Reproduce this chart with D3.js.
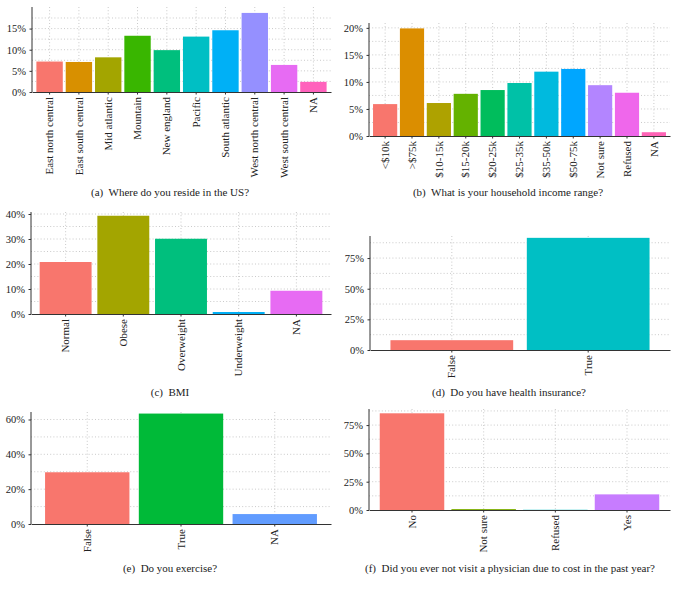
<!DOCTYPE html>
<html>
<head>
<meta charset="utf-8">
<script src="https://cdn.jsdelivr.net/npm/d3@7"></script>
<style>
  html, body { margin: 0; padding: 0; background: #fff; }
  svg { display: block; }
  text { font-family: "Liberation Serif", "DejaVu Serif", serif; fill: #222; }
</style>
</head>
<body>
<script>
// ---------- data ----------
const regionCats = ["East north central","East south central","Mid atlantic","Mountain","New england","Pacific","South atlantic","West north central","West south central","NA"];
const regionVals = [7.2, 7.1, 8.2, 13.3, 9.9, 13.1, 14.6, 18.7, 6.4, 2.4];
const regionTicks = [0, 5, 10, 15];

const incomeCats = ["<$10k",">$75k","$10-15k","$15-20k","$20-25k","$25-35k","$35-50k","$50-75k","Not sure","Refused","NA"];
const incomeVals = [5.9, 19.9, 6.1, 7.8, 8.5, 9.8, 11.9, 12.4, 9.4, 8.0, 0.7];
const incomeTicks = [0, 5, 10, 15, 20];

const bmiCats = ["Normal","Obese","Overweight","Underweight","NA"];
const bmiVals = [20.8, 39.3, 30.1, 0.8, 9.3];
const bmiTicks = [0, 10, 20, 30, 40];

const insCats = ["False","True"];
const insVals = [8.0, 91.5];
const insTicks = [0, 25, 50, 75];

const exCats = ["False","True","NA"];
const exVals = [29.7, 63.4, 5.7];
const exTicks = [0, 20, 40, 60];

const physCats = ["No","Not sure","Refused","Yes"];
const physVals = [85.4, 0.8, 0.2, 13.8];
const physTicks = [0, 25, 50, 75];

const captions = [
  "(a)  Where do you reside in the US?",
  "(b)  What is your household income range?",
  "(c)  BMI",
  "(d)  Do you have health insurance?",
  "(e)  Do you exercise?",
  "(f)  Did you ever not visit a physician due to cost in the past year?"
];

// ---------- styles ----------
const pal10 = ["#F8766D","#D89000","#A3A500","#39B600","#00BF7D","#00BFC4","#00B0F6","#9590FF","#E76BF3","#FF62BC"];
const pal11 = ["#F8766D","#DB8E00","#AEA200","#64B200","#00BD5C","#00C1A7","#00BADE","#00A6FF","#B385FF","#EF67EB","#FF63B6"];
const pal5  = ["#F8766D","#A3A500","#00BF7D","#00B0F6","#E76BF3"];
const pal2  = ["#F8766D","#00BFC4"];
const pal3  = ["#F8766D","#00BA38","#619CFF"];
const pal4  = ["#F8766D","#7CAE00","#00BFC4","#C77CFF"];

const W = 677, H = 591;
const svg = d3.select("body").append("svg").attr("width", W).attr("height", H);

function panel(cats, vals, ticks, ymax, colors, box, caption, cap) {
  const g = svg.append("g");
  const x = d3.scaleBand().domain(cats).range([box.l, box.r]).paddingInner(0.1).paddingOuter(0.15);
  const y = d3.scaleLinear().domain([0, ymax]).range([box.b, box.t]);
  const step = ticks[1] - ticks[0];
  const minor = ticks.map(t => t + step / 2).filter(v => v <= ymax);

  // grid
  const grid = g.append("g").attr("stroke", "#bdbdbd").attr("stroke-width", 0.8)
    .attr("stroke-dasharray", "1,2.2").attr("fill", "none");
  grid.selectAll("line.h").data(ticks.concat(minor).filter(v => v > 0)).join("line")
    .attr("x1", box.l).attr("x2", box.r).attr("y1", d => y(d)).attr("y2", d => y(d));
  grid.selectAll("line.v").data(cats).join("line")
    .attr("x1", d => x(d) + x.bandwidth() / 2).attr("x2", d => x(d) + x.bandwidth() / 2)
    .attr("y1", box.t).attr("y2", box.b);

  // bars
  g.selectAll("rect").data(cats).join("rect")
    .attr("x", d => x(d)).attr("width", x.bandwidth())
    .attr("y", (d, i) => y(vals[i])).attr("height", (d, i) => y(0) - y(vals[i]))
    .attr("fill", (d, i) => colors[i]);

  // y axis
  const ya = g.append("g").attr("transform", `translate(${box.l},0)`)
    .call(d3.axisLeft(y).tickValues(ticks).tickSize(2.5).tickPadding(3.5).tickFormat(d => d + "%"));
  ya.select(".domain").attr("stroke", "#333").attr("d", `M0,${box.t}V${box.b}`);
  ya.selectAll(".tick line").attr("stroke", "#333");
  ya.selectAll("text").attr("font-size", 10.5).attr("font-family", null).attr("fill", "#222");

  // x axis
  const xa = g.append("g").attr("transform", `translate(0,${box.b})`)
    .call(d3.axisBottom(x).tickSize(2.5).tickSizeOuter(0).tickPadding(3));
  xa.select(".domain").attr("stroke", "#333");
  xa.selectAll(".tick line").attr("stroke", "#333");
  xa.selectAll("text").attr("font-size", 11).attr("font-family", null).attr("fill", "#222")
    .attr("transform", "rotate(-90)").attr("text-anchor", "end")
    .attr("x", -5).attr("y", 0).attr("dy", "0.33em");

  svg.append("text").attr("x", cap.x).attr("y", cap.y).attr("text-anchor", "middle")
    .attr("font-size", 11).style("white-space", "pre").text(caption);
}

panel(regionCats, regionVals, regionTicks, 20.1, pal10, {l: 32, r: 331, t: 7, b: 92}, captions[0], {x: 170, y: 196});
panel(incomeCats, incomeVals, incomeTicks, 20.9, pal11, {l: 369, r: 670, t: 23, b: 136}, captions[1], {x: 508, y: 196});
panel(bmiCats, bmiVals, bmiTicks, 40.8, pal5, {l: 31, r: 331, t: 212, b: 314}, captions[2], {x: 170, y: 396});
panel(insCats, insVals, insTicks, 93, pal2, {l: 370, r: 670, t: 236, b: 350}, captions[3], {x: 509, y: 396});
panel(exCats, exVals, exTicks, 64.3, pal3, {l: 31, r: 331, t: 412, b: 524}, captions[4], {x: 170, y: 572});
panel(physCats, physVals, physTicks, 89.2, pal4, {l: 369, r: 670, t: 409, b: 510}, captions[5], {x: 510, y: 572});
</script>
</body>
</html>
